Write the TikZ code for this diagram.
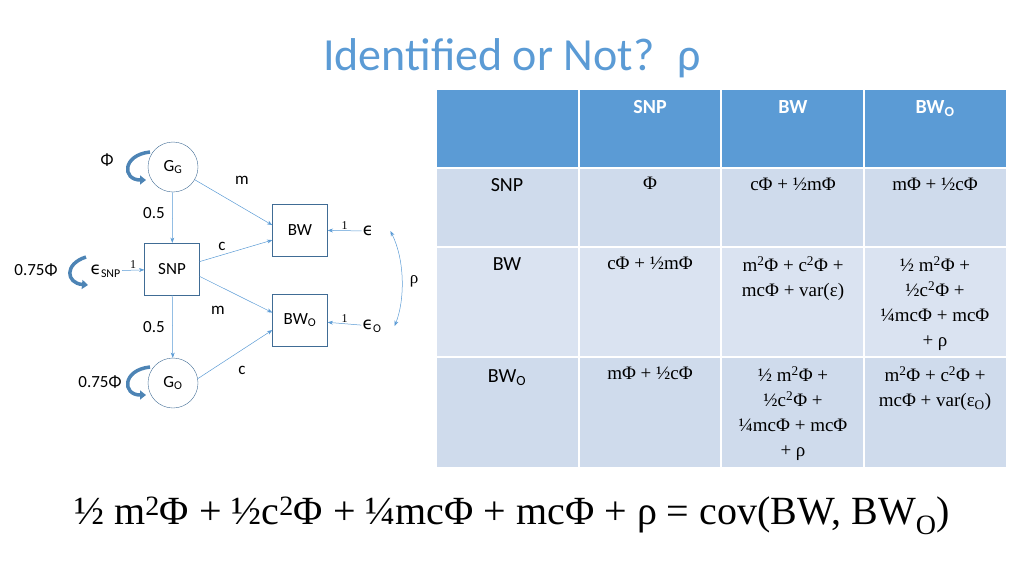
\documentclass[tikz,border=0pt]{standalone}
\usepackage{fontspec}
\setmainfont{Carlito}
\newfontfamily\tms{Liberation Serif}
\newfontfamily\grk{DejaVu Sans}
\usetikzlibrary{arrows.meta,calc}
\definecolor{accent}{HTML}{5B9BD5}
\definecolor{bandA}{HTML}{CFDBEC}
\definecolor{bandB}{HTML}{DAE3F1}
\newcommand{\Ph}{{\tms Φ}}
\begin{document}
\begin{tikzpicture}[x=1pt,y=-1pt,>=Stealth,
  latent/.style={draw=accent!70!black,circle,minimum size=50pt,inner sep=0pt,font=\fontsize{17}{17}\selectfont},
  obs/.style={draw=accent!70!black,minimum width=55pt,minimum height=52pt,font=\fontsize{17}{17}\selectfont},
  lbl/.style={font=\fontsize{17}{17}\selectfont,inner sep=1pt},
  one/.style={font=\tms\fontsize{12}{12}\selectfont,inner sep=1pt},
  path/.style={->,draw=accent,line width=0.5pt},
  loop/.style={-{Triangle[length=6pt,width=9pt]},draw=accent!85!black,line width=3.5pt},
  cell/.style={font=\tms\fontsize{19}{25}\selectfont,align=center,anchor=north},
  rowhead/.style={font=\fontsize{20}{20}\selectfont,anchor=north},
  colhead/.style={font=\bfseries\fontsize{20}{20}\selectfont,text=white,anchor=north}]
\useasboundingbox (0,0) rectangle (1024,576);

% title
\node[text=accent,font=\fontsize{46}{46}\selectfont] (title) at (512,58) {Identified or Not?\enspace ρ};

% table
\fill[accent] (437,90) rectangle (1006,168);
\fill[bandA] (437,168) rectangle (1006,247);
\fill[bandB] (437,247) rectangle (1006,357);
\fill[bandA] (437,357) rectangle (1006,467);
\foreach \x in {579,721,864} \draw[white,line width=1.5pt] (\x,90) -- (\x,467);
\foreach \y in {168,247,357} \draw[white,line width=1.5pt] (437,\y) -- (1006,\y);

\node[colhead] (hsnp) at (650,97) {SNP};
\node[colhead] (hbw) at (793,97) {BW};
\node[colhead] (hbwo) at (935,97) {BW\textsubscript{O}};

\node[rowhead] (rsnp) at (507,175) {SNP};
\node[rowhead] (rbw) at (507,254) {BW};
\node[rowhead] (rbwo) at (507,366) {BW\textsubscript{O}};

\node[cell] (c11) at (650,174) {\Ph};
\node[cell] (c12) at (793,174) {c\Ph{} + ½m\Ph};
\node[cell] (c13) at (935,174) {m\Ph{} + ½c\Ph};
\node[cell] (c21) at (650,253) {c\Ph{} + ½m\Ph};
\node[cell] (c22) at (793,253) {m\textsuperscript{2}\Ph{} + c\textsuperscript{2}\Ph{} +\\ mc\Ph{} + var(ε)};
\node[cell] (c23) at (935,253) {½ m\textsuperscript{2}\Ph{} +\\ ½c\textsuperscript{2}\Ph{} +\\ ¼mc\Ph{} + mc\Ph\\ + ρ};
\node[cell] (c31) at (650,363) {m\Ph{} + ½c\Ph};
\node[cell] (c32) at (793,363) {½ m\textsuperscript{2}\Ph{} +\\ ½c\textsuperscript{2}\Ph{} +\\ ¼mc\Ph{} + mc\Ph\\ + ρ};
\node[cell] (c33) at (935,363) {m\textsuperscript{2}\Ph{} + c\textsuperscript{2}\Ph{} +\\ mc\Ph{} + var(ε\textsubscript{O})};

% bottom equation
\node[font=\tms\fontsize{40}{40}\selectfont] (eq) at (512,516) {½ m\textsuperscript{2}Φ + ½c\textsuperscript{2}Φ + ¼mcΦ + mcΦ + ρ = cov(BW, BW\textsubscript{O})};

% path diagram
\node[latent] (gg) at (173,167) {G\textsubscript{G}};
\node[obs] (snp) at (172,269) {SNP};
\node[latent] (go) at (173,383) {G\textsubscript{O}};
\node[obs] (bw) at (300,230) {BW};
\node[obs] (bwo) at (300,320) {BW\textsubscript{O}};
\node[lbl] (e) at (368,231) {{\grk ϵ}};
\node[lbl] (eo) at (372,326) {{\grk ϵ}\textsubscript{O}};
\node[lbl,anchor=east] (esnp) at (122,271) {{\grk ϵ}\textsubscript{SNP}};
\node[lbl] (rho) at (414,281) {{\tms ρ}};

\draw[path] (gg) -- (snp);
\draw[path] (snp) -- (go);
\draw[path] (gg) -- (bw.170);
\draw[path] (snp.15) -- (bw.200);
\draw[path] (snp.-15) -- (bwo.165);
\draw[path] (go.10) -- (bwo.200);
\draw[path] (esnp) -- node[one,above] {1} (snp);
\draw[path] (e) -- node[one,above] {1} (bw);
\draw[path] (eo) -- node[one,above] {1} (bwo);
\draw[<->,draw=accent,line width=0.5pt] ($(e.east)+(16,0)$) .. controls (405,260) and (405,300) .. ($(eo.east)+(12,0)$);

\node[lbl] (lm1) at (242,180) {m};
\node[lbl] (l05a) at (154,213) {0.5};
\node[lbl] (lc1) at (222,246) {c};
\node[lbl] (lm2) at (218,310) {m};
\node[lbl] (l05b) at (154,327) {0.5};
\node[lbl] (lc2) at (242,370) {c};

% variances
\node[lbl] (vgg) at (107,160) {Φ};
\node[lbl] (vsnp) at (36,270) {0.75Φ};
\node[lbl] (vgo) at (100,382) {0.75Φ};
\draw[loop] (150,152) .. controls (122,155) and (122,180) .. (146,180);
\draw[loop] (86,257) .. controls (64,264) and (66,283) .. (88,285);
\draw[loop] (150,367) .. controls (122,370) and (122,395) .. (146,395);
\end{tikzpicture}
\end{document}
